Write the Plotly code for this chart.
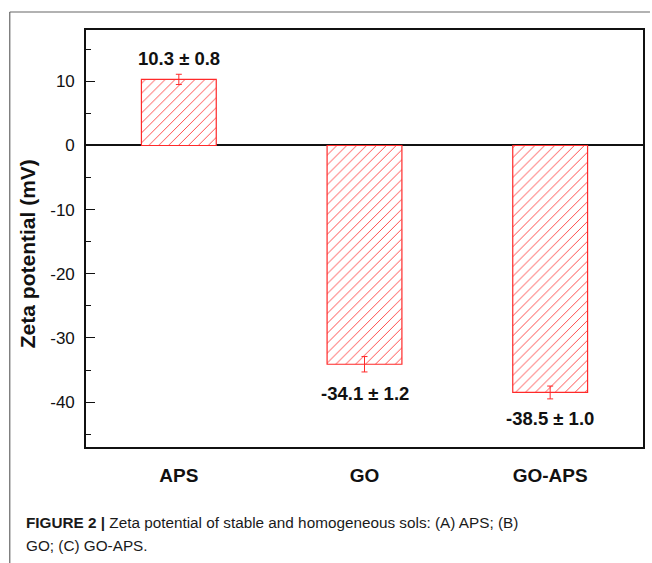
import plotly.graph_objects as go

categories = ["APS", "GO", "GO-APS"]
zeta_mean = [10.3, -34.1, -38.5]
zeta_err = [0.8, 1.2, 1.0]
value_labels = ["10.3 ± 0.8", "-34.1 ± 1.2", "-38.5 ± 1.0"]
label_shift = [16, -22, -20]
y_tickvals = [-40, -30, -20, -10, 0, 10]
y_ticktext = ["-40", "-30", "-20", "-10", "0", "10"]

W, H = 652, 563
ML, MR, MT, MB = 86, 7, 30, 116
PW, PH = W - ML - MR, H - MT - MB


def px_x(px):
    return (px - ML) / PW


def px_y(py):
    return (H - MB - py) / PH


RED = "#ff2a2a"
FONT = "Liberation Sans, Arial, sans-serif"

fig = go.Figure()
fig.add_trace(go.Bar(
    x=categories,
    y=zeta_mean,
    width=0.403,
    marker=dict(
        color=RED,
        line=dict(color=RED, width=1.2),
        pattern=dict(shape="/", size=7, solidity=0.14, fillmode="replace",
                     fgcolor="#ff4a4a", bgcolor="white"),
    ),
    error_y=dict(type="data", array=zeta_err, color=RED, thickness=1, width=3),
    showlegend=False,
))

for c, v, e, t, s in zip(categories, zeta_mean, zeta_err, value_labels, label_shift):
    fig.add_annotation(
        x=c, y=v + (e if v >= 0 else -e), text=t, showarrow=False,
        yshift=s, yanchor="middle",
        font=dict(family=FONT, size=18.5, color="#111111", weight="bold"),
    )

# y axis title
fig.add_annotation(
    xref="paper", yref="paper", x=px_x(27), y=px_y(254),
    text="<b>Zeta potential (mV)</b>", textangle=-90, showarrow=False,
    xanchor="center", yanchor="middle",
    font=dict(family=FONT, size=21, color="#111111"),
)

# caption
fig.add_annotation(
    xref="paper", yref="paper", x=px_x(24), y=px_y(522),
    text="<b>FIGURE 2 |</b> Zeta potential of stable and homogeneous sols: (A) APS; (B)",
    showarrow=False, xanchor="left", yanchor="middle",
    font=dict(family=FONT, size=15.3, color="#1a1a1a"),
)
fig.add_annotation(
    xref="paper", yref="paper", x=px_x(24), y=px_y(545),
    text="GO; (C) GO-APS.",
    showarrow=False, xanchor="left", yanchor="middle",
    font=dict(family=FONT, size=15.3, color="#1a1a1a"),
)

# outer figure frame (left and top)
fig.add_shape(type="line", xref="paper", yref="paper",
              x0=px_x(9.5), x1=px_x(9.5), y0=px_y(12), y1=px_y(563),
              line=dict(color="#666666", width=1.2))
fig.add_shape(type="line", xref="paper", yref="paper",
              x0=px_x(9.5), x1=px_x(652), y0=px_y(12), y1=px_y(12),
              line=dict(color="#666666", width=1.2))

fig.update_layout(
    width=W, height=H,
    margin=dict(l=ML, r=MR, t=MT, b=MB, pad=0),
    paper_bgcolor="white", plot_bgcolor="white",
    font=dict(family=FONT, color="#111111"),
    bargap=0.6,
)
fig.update_xaxes(
    showline=True, linecolor="#111111", linewidth=1.6, mirror=True,
    ticks="", showgrid=False,
    tickfont=dict(family=FONT, size=19, color="#111111", weight="bold"),
    ticklabelstandoff=10,
)
fig.update_yaxes(
    range=[-47, 18],
    showline=True, linecolor="#111111", linewidth=1.6, mirror=True,
    showgrid=False,
    zeroline=True, zerolinecolor="#111111", zerolinewidth=1.6,
    tickvals=y_tickvals, ticktext=y_ticktext,
    ticks="inside", ticklen=9, tickwidth=1.3, tickcolor="#111111",
    minor=dict(dtick=5, tick0=0, ticks="inside", ticklen=5, tickwidth=1.3,
               tickcolor="#111111", showgrid=False),
    tickfont=dict(family=FONT, size=17, color="#111111"),
    ticklabelstandoff=6,
)

fig.write_html("out.html")
